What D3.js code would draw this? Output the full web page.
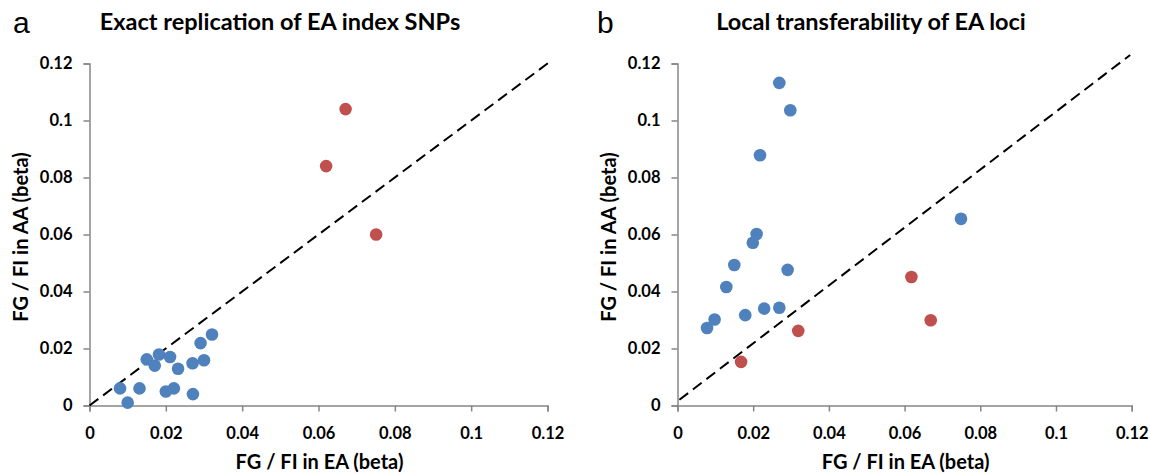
<!DOCTYPE html>
<html lang="en">
<head>
  <meta charset="UTF-8" />
  <title>FG / FI effect sizes in EA vs AA</title>
  <script src="https://d3js.org/d3.v7.min.js"></script>
  <style>
    body { margin: 0; background: #fff; }
    svg text { font-family: Lato, "Open Sans", sans-serif; fill: #000; }
    .tick text { font-size: 16.5px; font-weight: 700; }
    .axis path, .axis line { stroke: #868686; stroke-width: 1.5; }
    .axis-title { font-size: 20px; font-weight: 700; }
    .panel-title { font-size: 23.5px; font-weight: 700; }
    .panel-letter { font-family: "Liberation Sans", Arial, sans-serif !important; font-size: 30px; }
  </style>
</head>
<body>
  <svg width="1151" height="475"></svg>

  <script>
    // shared axis ticks
    const tickValues = [0, 0.02, 0.04, 0.06, 0.08, 0.1, 0.12];
    const tickLabels = ["0", "0.02", "0.04", "0.06", "0.08", "0.1", "0.12"];

    // panel a: exact replication of EA index SNPs  [EA beta, AA beta]
    const exactBlue = [
      [0.0080, 0.0060], [0.0100, 0.0010], [0.0131, 0.0060], [0.0150, 0.0162],
      [0.0171, 0.0140], [0.0182, 0.0179], [0.0200, 0.0049], [0.0211, 0.0170],
      [0.0221, 0.0060], [0.0232, 0.0129], [0.0270, 0.0148], [0.0271, 0.0040],
      [0.0291, 0.0219], [0.0300, 0.0159], [0.0321, 0.0249]
    ];
    const exactRed = [[0.0671, 0.1040], [0.0620, 0.0840], [0.0751, 0.0600]];
    const exactDiag = [[0, 0], [0.121, 0.121]];

    // panel b: local transferability of EA loci
    const localBlue = [
      [0.0269, 0.1132], [0.0298, 0.1036], [0.0218, 0.0878], [0.0749, 0.0655],
      [0.0209, 0.0602], [0.0199, 0.0571], [0.0150, 0.0493], [0.0129, 0.0416],
      [0.0291, 0.0476], [0.0179, 0.0317], [0.0229, 0.0340], [0.0269, 0.0343],
      [0.0098, 0.0302], [0.0078, 0.0272]
    ];
    const localRed = [[0.0168, 0.0153], [0.0319, 0.0262], [0.0618, 0.0451], [0.0669, 0.0299]];
    const localDiag = [[0.0005, 0.002], [0.1196, 0.123]];

    const blue = "#4F81BD", red = "#C0504D";
    const svg = d3.select("svg");

    function drawPanel(opts) {
      const x = d3.scaleLinear().domain([0, 0.12]).range([opts.left, opts.right]);
      const y = d3.scaleLinear().domain([0, 0.12]).range([405.5, 63.5]);
      const fmt = v => tickLabels[tickValues.indexOf(v)];

      svg.append("g")
        .attr("class", "axis")
        .attr("transform", `translate(0,${y(0)})`)
        .call(d3.axisBottom(x).tickValues(tickValues).tickFormat(fmt).tickSizeOuter(0).tickSize(6).tickPadding(16));

      svg.append("g")
        .attr("class", "axis")
        .attr("transform", `translate(${x(0)},0)`)
        .call(d3.axisLeft(y).tickValues(tickValues).tickFormat(fmt).tickSizeOuter(0).tickSize(6).tickPadding(11));

      // 1:1 dashed line
      svg.append("line")
        .attr("x1", x(opts.diag[0][0])).attr("y1", y(opts.diag[0][1]))
        .attr("x2", x(opts.diag[1][0])).attr("y2", y(opts.diag[1][1]))
        .attr("stroke", "#000")
        .attr("stroke-width", 2)
        .attr("stroke-dasharray", "11,6");

      [[opts.blue, blue], [opts.red, red]].forEach(([pts, c]) => {
        svg.append("g").selectAll("circle")
          .data(pts)
          .enter()
          .append("circle")
          .attr("cx", d => x(d[0]))
          .attr("cy", d => y(d[1]))
          .attr("r", 6.3)
          .attr("fill", c);
      });

      // Axis titles
      svg.append("text")
        .attr("class", "axis-title")
        .attr("text-anchor", "middle")
        .attr("x", (opts.left + opts.right) / 2 + 1)
        .attr("y", 469)
        .text("FG / FI in EA (beta)");

      svg.append("text")
        .attr("class", "axis-title")
        .attr("text-anchor", "middle")
        .attr("transform", `translate(${opts.left - 61.5},237) rotate(-90)`)
        .text("FG / FI in AA (beta)");

      svg.append("text")
        .attr("class", "panel-title")
        .attr("text-anchor", "middle")
        .attr("x", opts.titleX)
        .attr("y", 30)
        .text(opts.title);

      svg.append("text")
        .attr("class", "panel-letter")
        .attr("x", opts.letterX)
        .attr("y", 33)
        .text(opts.letter);
    }

    drawPanel({
      left: 89.5, right: 547.5, titleX: 280, letterX: 13, letter: "a",
      title: "Exact replication of EA index SNPs",
      blue: exactBlue, red: exactRed, diag: exactDiag
    });

    drawPanel({
      left: 677.5, right: 1131.7, titleX: 871, letterX: 597, letter: "b",
      title: "Local transferability of EA loci",
      blue: localBlue, red: localRed, diag: localDiag
    });
  </script>
</body>
</html>
